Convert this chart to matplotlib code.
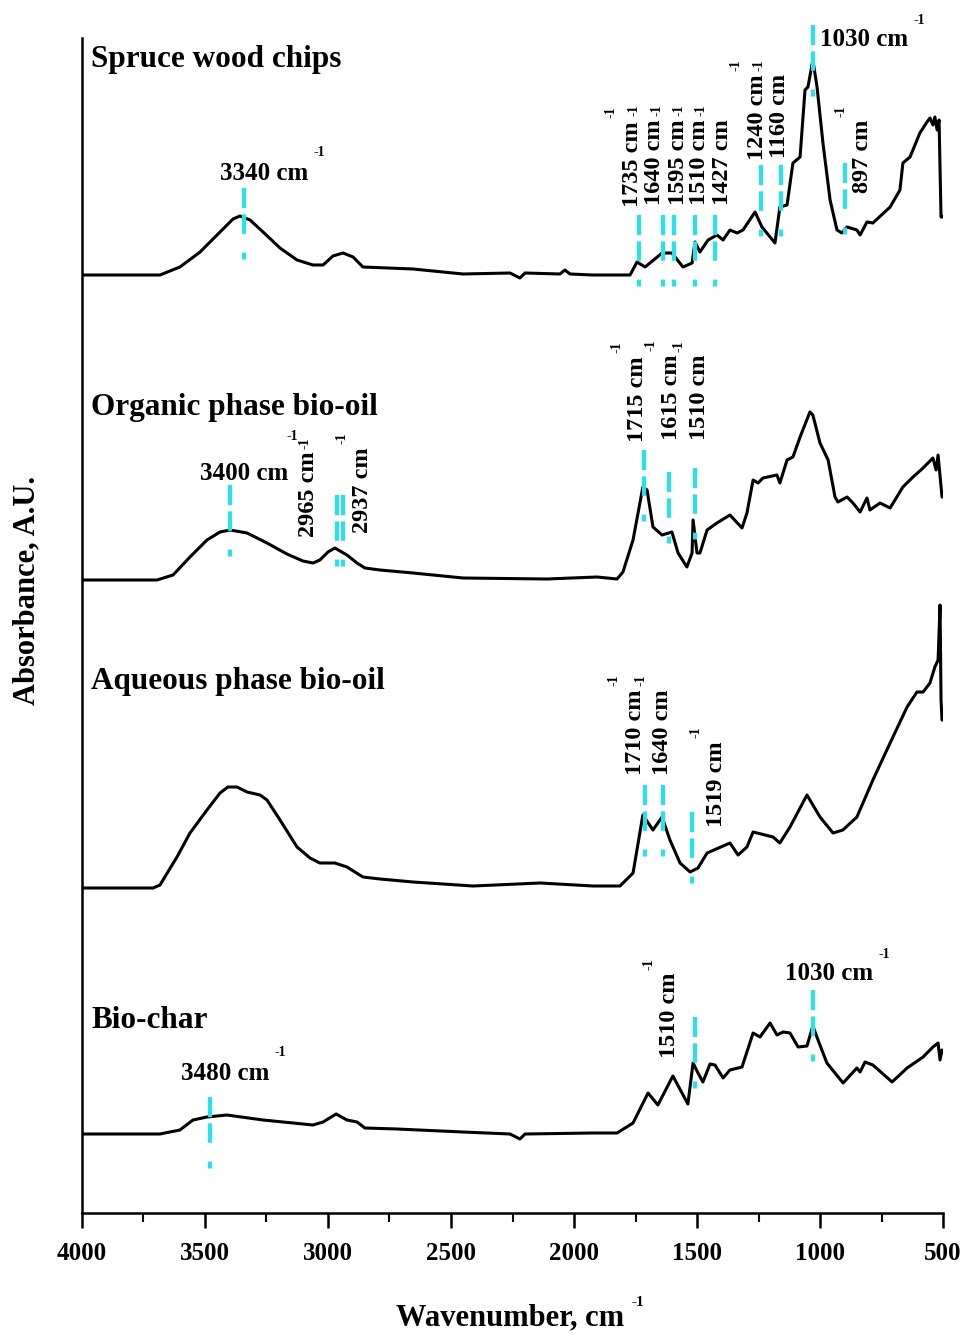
import matplotlib.pyplot as plt
import numpy as np

plt.rcParams['font.family'] = ['Liberation Serif', 'DejaVu Serif']
plt.rcParams['font.weight'] = 'bold'
plt.rcParams['lines.scale_dashes'] = False

# FTIR spectra: wavenumber (cm-1) and absorbance above each trace's own baseline (A.U.)
spruce_wn = [4000, 3683, 3602, 3520, 3439, 3386, 3358, 3317, 3264, 3195, 3126, 3061, 3020, 2980,
             2939, 2898, 2858, 2654, 2451, 2260, 2220, 2199, 2057, 2037, 2016, 1923, 1772, 1744,
             1711, 1642, 1602, 1557, 1520, 1508, 1488, 1455, 1419, 1394, 1366, 1337, 1313, 1264,
             1236, 1183, 1163, 1134, 1110, 1081, 1061, 1049, 1029, 1012, 988, 959, 931, 911, 890,
             850, 837, 809, 785, 715, 675, 663, 634, 594, 565, 553, 541, 533, 524, 516, 508, 500]
spruce_abs = [0.00, 0.00, 0.08, 0.23, 0.43, 0.56, 0.59, 0.55, 0.43, 0.27, 0.15, 0.10, 0.10, 0.19,
              0.22, 0.18, 0.08, 0.06, 0.01, 0.02, -0.03, 0.02, 0.01, 0.05, 0.01, 0.00, 0.00, 0.13,
              0.08, 0.22, 0.22, 0.08, 0.12, 0.33, 0.23, 0.35, 0.40, 0.35, 0.45, 0.42, 0.45, 0.63,
              0.48, 0.32, 0.68, 0.70, 1.12, 1.18, 1.85, 1.88, 2.15, 1.88, 1.32, 0.75, 0.45, 0.42,
              0.48, 0.45, 0.40, 0.53, 0.52, 0.68, 0.85, 1.12, 1.18, 1.42, 1.53, 1.57, 1.50, 1.58,
              1.45, 1.55, 0.58, 0.58]

organic_wn = [4000, 3695, 3630, 3561, 3492, 3439, 3398, 3329, 3248, 3167, 3102, 3061, 3033, 3000,
              2972, 2923, 2882, 2850, 2789, 2654, 2451, 2110, 1907, 1825, 1801, 1760, 1720, 1703,
              1679, 1642, 1602, 1577, 1541, 1520, 1516, 1500, 1488, 1459, 1419, 1366, 1317, 1297,
              1272, 1252, 1232, 1175, 1163, 1134, 1110, 1081, 1041, 1029, 1000, 967, 939, 927, 890,
              866, 837, 809, 797, 756, 715, 663, 622, 581, 541, 528, 520, 504, 500]
organic_abs = [0.00, 0.00, 0.05, 0.23, 0.40, 0.48, 0.50, 0.47, 0.37, 0.26, 0.19, 0.17, 0.20, 0.28,
               0.32, 0.25, 0.17, 0.12, 0.10, 0.07, 0.02, 0.01, 0.03, 0.01, 0.08, 0.40, 0.93, 0.90,
               0.53, 0.45, 0.48, 0.27, 0.13, 0.27, 0.60, 0.27, 0.27, 0.50, 0.57, 0.65, 0.52, 0.67,
               1.00, 0.97, 1.02, 1.05, 0.97, 1.20, 1.23, 1.43, 1.68, 1.65, 1.37, 1.20, 0.83, 0.78,
               0.83, 0.77, 0.68, 0.82, 0.70, 0.77, 0.72, 0.93, 1.03, 1.12, 1.22, 1.10, 1.25, 0.83,
               0.83]

aqueous_wn = [4000, 3711, 3683, 3614, 3561, 3492, 3439, 3407, 3370, 3329, 3276, 3248, 3195, 3126,
              3073, 3033, 2972, 2923, 2858, 2789, 2654, 2411, 2138, 1923, 1813, 1760, 1720, 1679,
              1642, 1610, 1569, 1528, 1496, 1459, 1366, 1333, 1297, 1272, 1191, 1163, 1122, 1053,
              1000, 947, 907, 850, 785, 715, 646, 606, 581, 553, 533, 520, 512, 508, 504, 500]
aqueous_abs = [0.00, 0.00, 0.03, 0.31, 0.55, 0.78, 0.95, 1.01, 1.01, 0.96, 0.93, 0.88, 0.68, 0.41,
               0.30, 0.25, 0.25, 0.21, 0.11, 0.09, 0.06, 0.02, 0.05, 0.02, 0.02, 0.15, 0.73, 0.58,
               0.71, 0.48, 0.25, 0.16, 0.20, 0.35, 0.45, 0.33, 0.41, 0.56, 0.51, 0.45, 0.61, 0.93,
               0.71, 0.55, 0.58, 0.71, 1.08, 1.45, 1.81, 1.96, 1.96, 2.05, 2.21, 2.28, 2.83, 1.88,
               1.68, 1.68]

biochar_wn = [4000, 3683, 3602, 3549, 3492, 3411, 3264, 3061, 3020, 2967, 2923, 2882, 2850, 2720,
              2451, 2260, 2220, 2199, 1923, 1825, 1760, 1699, 1659, 1598, 1537, 1516, 1496, 1476,
              1447, 1427, 1394, 1366, 1317, 1272, 1244, 1203, 1175, 1150, 1122, 1089, 1053, 1029,
              1008, 972, 906, 850, 837, 817, 785, 707, 646, 581, 541, 520, 512, 504, 500]
biochar_abs = [0.00, 0.00, 0.04, 0.14, 0.17, 0.19, 0.14, 0.09, 0.12, 0.20, 0.14, 0.12, 0.06, 0.05,
               0.02, 0.00, -0.05, 0.00, 0.01, 0.01, 0.11, 0.41, 0.29, 0.58, 0.30, 0.71, 0.61, 0.52,
               0.70, 0.69, 0.56, 0.64, 0.67, 1.01, 0.97, 1.11, 0.99, 1.02, 1.01, 0.87, 0.88, 1.08,
               0.94, 0.71, 0.51, 0.66, 0.62, 0.72, 0.69, 0.52, 0.66, 0.77, 0.87, 0.91, 0.74, 0.84, 0.82]

names = ['Spruce wood chips', 'Organic phase bio-oil', 'Aqueous phase bio-oil', 'Bio-char']
offsets = [9.38, 6.33, 3.25, 0.79]
spectra = [(spruce_wn, spruce_abs), (organic_wn, organic_abs),
           (aqueous_wn, aqueous_abs), (biochar_wn, biochar_abs)]

# marked bands: wavenumber, dashed marker span, label position, rotated label?
bands = [
    (3340, 10.25, 9.41, 3260, 10.40, False),
    (1735, 9.98, 9.13, 1764, 10.06, True),
    (1640, 9.98, 9.13, 1671, 10.08, True),
    (1595, 9.98, 9.13, 1577, 10.08, True),
    (1510, 9.98, 9.13, 1488, 10.08, True),
    (1427, 9.98, 9.13, 1398, 10.08, True),
    (1240, 10.48, 9.56, 1256, 10.53, True),
    (1160, 10.48, 9.56, 1163, 10.55, True),
    (1030, 11.88, 10.98, 821, 11.73, False),
    (897, 10.50, 9.60, 829, 10.20, True),
    (3400, 7.28, 6.43, 3341, 7.40, False),
    (2965, 7.18, 6.35, 3081, 6.76, True),
    (2937, 7.18, 6.35, 2858, 6.80, True),
    (1715, 7.63, 6.78, 1740, 7.71, True),
    (1615, 7.41, 6.56, 1602, 7.73, True),
    (1510, 7.45, 6.58, 1488, 7.73, True),
    (1710, 4.28, 3.43, 1752, 4.38, True),
    (1640, 4.28, 3.43, 1642, 4.38, True),
    (1519, 4.01, 3.16, 1419, 3.86, True),
    (3480, 1.16, 0.31, 3419, 1.40, False),
    (1510, 1.96, 1.13, 1610, 1.55, True),
    (1030, 2.23, 1.40, 963, 2.39, False),
]
# a couple of "-1" superscripts sit elsewhere in the original
sup_shift = {(3400, 7.40): (-2, 36), (2965, 6.76): (-3, 2)}

cyan = '#1EE6F0'

fig = plt.figure(figsize=(9.66, 13.36), dpi=100)
ax = fig.add_axes([82 / 966, 1 - 1213 / 1336, 861 / 966, 1175 / 1336])

for (wn, ab), off in zip(spectra, offsets):
    ax.plot(wn, np.array(ab) + off, color='black', lw=2.2, zorder=3)

name_y = [11.53, 8.05, 5.32, 1.93]
for name, y in zip(names, name_y):
    ax.text(3963, y, name, fontsize=22.5, fontweight='bold', ha='left', va='center')

for wn, ytop, ybot, lx, ly, rot in bands:
    ax.plot([wn, wn], [ytop, ybot], color=cyan, lw=2.9, zorder=4, clip_on=False,
            dashes=(14.5, 4.5, 14, 13.5, 5.0, 200), dash_capstyle='butt')
    if rot:
        t = ax.text(lx, ly, f'{wn} cm', rotation=90, fontsize=17.5, fontweight='bold',
                    ha='center', va='bottom')
        off = sup_shift.get((wn, ly), (-21, 3))
        ax.annotate('-1', xy=(0.5, 1), xycoords=t, xytext=off, textcoords='offset pixels',
                    rotation=90, fontsize=10, fontweight='bold', ha='center', va='bottom')
    else:
        t = ax.text(lx, ly, f'{wn} cm', fontsize=18, fontweight='bold', ha='center', va='center')
        off = sup_shift.get((wn, ly), (5, 20))
        ax.annotate('-1', xy=(1, 0.5), xycoords=t, xytext=off, textcoords='offset pixels',
                    fontsize=10, fontweight='bold', ha='left', va='center')

ax.set_xlim(4000, 500)
ax.set_ylim(0, 11.75)
ax.set_xticks(np.arange(4000, 499, -500))
ax.set_xticks(np.arange(3750, 500, -500), minor=True)
ax.set_yticks([])
for s in ['top', 'right']:
    ax.spines[s].set_visible(False)
for s in ['left', 'bottom']:
    ax.spines[s].set_linewidth(1.8)
ax.tick_params(axis='x', which='major', length=11, width=1.8, direction='out', pad=10,
               labelsize=18)
ax.tick_params(axis='x', which='minor', length=6.5, width=1.5, direction='out')
for lab in ax.get_xticklabels():
    lab.set_fontweight('bold')

fig.text(510 / 966, 1 - 1318 / 1336, 'Wavenumber, cm', fontsize=22, fontweight='bold',
         ha='center', va='center')
fig.text(632 / 966, 1 - 1303 / 1336, '-1', fontsize=11, fontweight='bold', ha='left', va='center')
fig.text(27 / 966, 1 - 590 / 1336, 'Absorbance, A.U.', fontsize=22, fontweight='bold',
         rotation=90, ha='center', va='center')

fig.savefig('out.png', dpi=100)
